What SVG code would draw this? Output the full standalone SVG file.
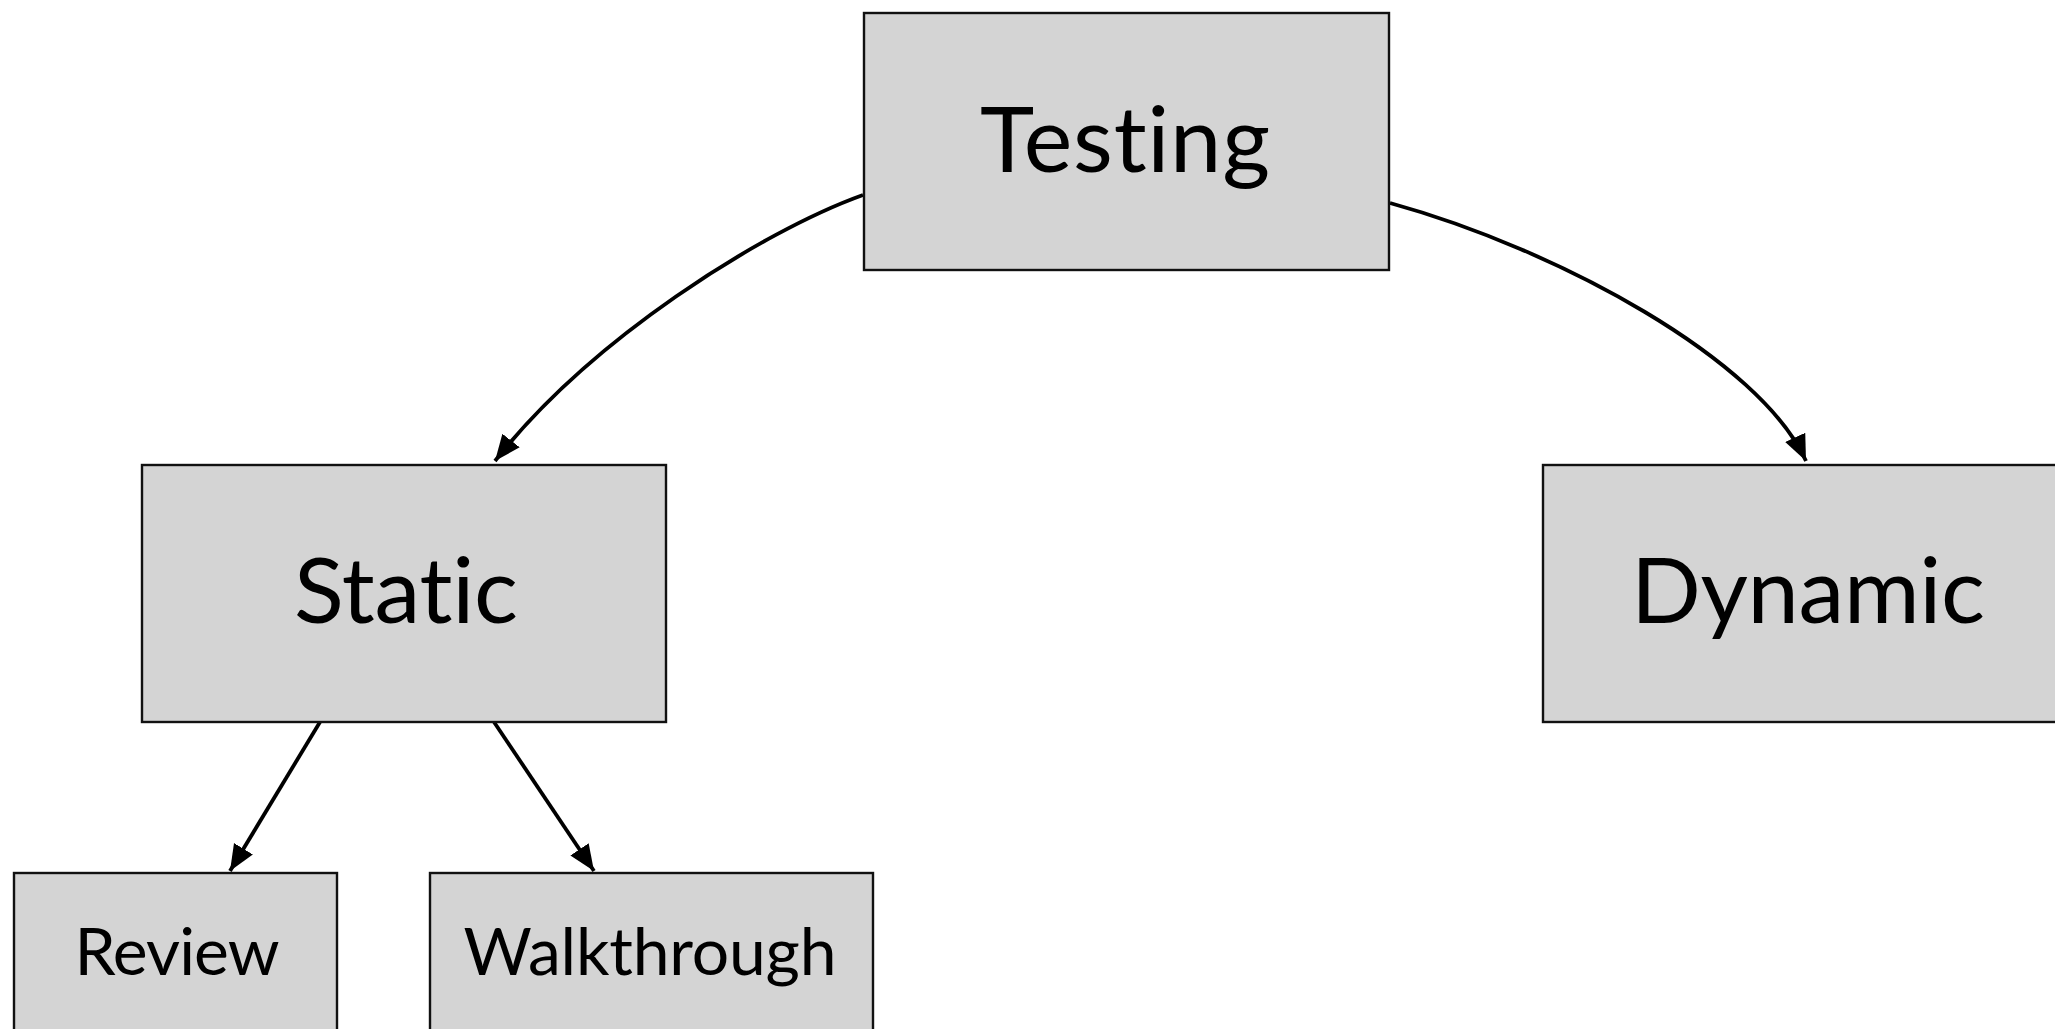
<svg xmlns="http://www.w3.org/2000/svg" width="2055" height="1029" viewBox="0 0 2055 1029">
  <style>
    .box { fill: #d4d4d4; stroke: #111; stroke-width: 2.4; }
    .lbl { font-family: Lato, "Noto Sans", "Liberation Sans", sans-serif; fill: #000; text-anchor: middle; font-variant-ligatures: none; font-feature-settings: "liga" 0, "clig" 0; }
    .big { font-size: 92px; }
    .small { font-size: 66px; }
    .edge { fill: none; stroke: #000; stroke-width: 3.8; marker-end: url(#arrow); }
  </style>
  <defs>
    <marker id="arrow" markerUnits="userSpaceOnUse" markerWidth="28" markerHeight="24" refX="26" refY="12" orient="auto">
      <path d="M0,1 L26,12 L0,23 z" fill="#000"/>
    </marker>
  </defs>
  <rect width="2055" height="1029" fill="#fff"/>

  <!-- arrows between the boxes -->
  <g id="connectors">
    <path class="edge" d="M863,195 C760,232 590,340 495,461"/>
    <path class="edge" d="M1390,203 C1560,250 1760,360 1806,461"/>
    <path class="edge" d="M320,722 L230,871"/>
    <path class="edge" d="M494,722 L594,871"/>
  </g>

  <g id="node-testing">
    <rect class="box" x="864" y="13" width="525" height="257"/>
    <text class="lbl big" x="1125" y="172" textLength="290">Testing</text>
  </g>
  <g id="node-static">
    <rect class="box" x="142" y="465" width="524" height="257"/>
    <text class="lbl big" x="406" y="623" textLength="224">Static</text>
  </g>
  <g id="node-dynamic">
    <rect class="box" x="1543" y="465" width="530" height="257"/>
    <text class="lbl big" x="1808" y="623" textLength="354">Dynamic</text>
  </g>
  <g id="node-review">
    <rect class="box" x="14" y="873" width="323" height="257"/>
    <text class="lbl small" x="177" y="975" textLength="205">Review</text>
  </g>
  <g id="node-walkthrough">
    <rect class="box" x="430" y="873" width="443" height="257"/>
    <text class="lbl small" x="650" y="975" textLength="373">Walkthrough</text>
  </g>
</svg>
